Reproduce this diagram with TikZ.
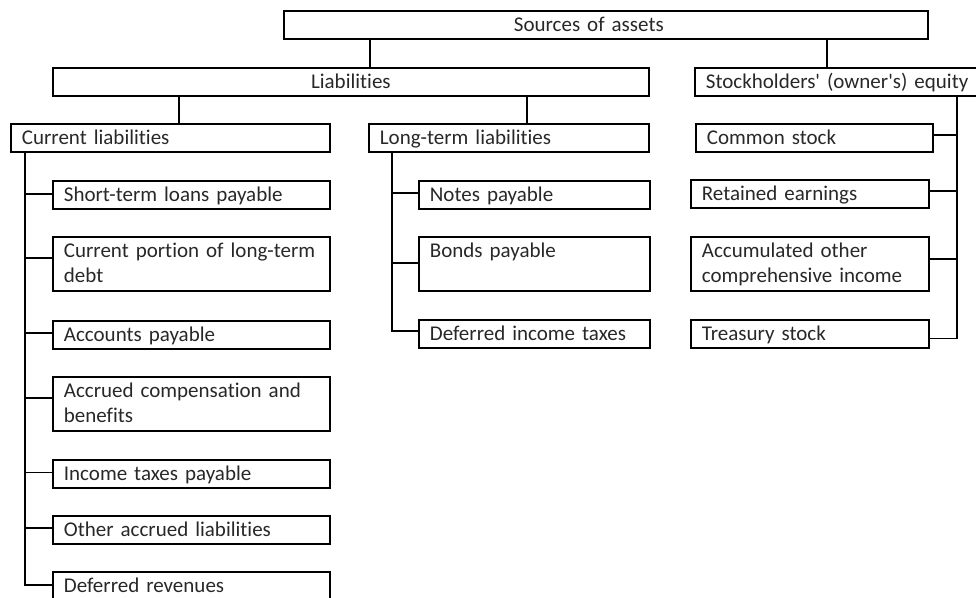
\documentclass[tikz,border=0pt]{standalone}
\usepackage{fontspec}
\setmainfont[Ligatures=NoCommon]{Carlito}
\usetikzlibrary{calc}
\definecolor{ink}{RGB}{40,40,40}
\tikzset{
  box/.style={draw=black, line width=1.8pt, anchor=north west,
    inner xsep=11pt, inner ysep=1pt, text height=20pt, text depth=6pt,
    align=left, text=ink, font=\fontsize{21}{25}\selectfont},
  tallbox/.style={box, text depth=32pt},
  link/.style={draw=black, line width=1.8pt},
}
\begin{document}
\begin{tikzpicture}[x=1pt,y=-1pt]
\useasboundingbox (0,0) rectangle (976,597);

% top levels
\node[box, text width=622pt] (src) at (283,10) {\hspace*{219pt}Sources of assets};
\node[box, text width=574pt, align=center] (liab) at (52,67) {Liabilities};
\node[box, text width=284pt] (eq) at (694,67) {Stockholders\textquotesingle{} (owner\textquotesingle{}s) equity};
\node[box, text width=297pt] (cur) at (10,123) {Current liabilities};
\node[box, text width=258pt] (lt) at (368,123) {Long-term liabilities};

% current liabilities
\node[box, text width=255pt] (c1) at (52,180) {Short-term loans payable};
\node[tallbox, text width=255pt] (c2) at (52,236) {Current portion of long-term\\debt};
\node[box, text width=255pt] (c3) at (52,320) {Accounts payable};
\node[tallbox, text width=255pt] (c4) at (52,376) {Accrued compensation and\\benefits};
\node[box, text width=255pt] (c5) at (52,459) {Income taxes payable};
\node[box, text width=255pt] (c6) at (52,515) {Other accrued liabilities};
\node[box, text width=255pt] (c7) at (52,571) {Deferred revenues};

% long-term liabilities
\node[box, text width=209pt] (n1) at (418,180) {Notes payable};
\node[tallbox, text width=209pt] (n2) at (418,236) {Bonds payable};
\node[box, text width=209pt] (n3) at (418,319) {Deferred income taxes};

% equity
\node[box, text width=215pt] (e1) at (695,123) {Common stock};
\node[box, text width=216pt] (e2) at (690,179) {Retained earnings};
\node[tallbox, text width=216pt] (e3) at (690,236) {Accumulated other\\comprehensive income};
\node[box, text width=216pt] (e4) at (690,319) {Treasury stock};

% upper connectors
\draw[link] ([xshift=87pt]src.south west) -- ([xshift=87pt]src.south west |- liab.north);
\draw[link] ([xshift=544pt]src.south west) -- ([xshift=544pt]src.south west |- eq.north);
\draw[link] ([xshift=127pt]liab.south west) -- ([xshift=127pt]liab.south west |- cur.north);
\draw[link] ([xshift=475pt]liab.south west) -- ([xshift=475pt]liab.south west |- lt.north);

% current liabilities trunk
\coordinate (ct) at ([xshift=15pt]cur.south west);
\draw[link] (ct) |- ([yshift=1pt]c1.west);
\draw[link] (ct) |- ([yshift=6pt]c2.west);
\draw[link] (ct) |- ([yshift=2pt]c3.west);
\draw[link] (ct) |- ([yshift=6pt]c4.west);
\draw[link] (ct) |- ([yshift=1.5pt]c5.west);
\draw[link] (ct) |- ([yshift=2pt]c6.west);
\draw[link] (ct) |- ([yshift=1pt]c7.west);

% long-term liabilities trunk
\coordinate (lt0) at ([xshift=24pt]lt.south west);
\draw[link] (lt0) |- ([yshift=2pt]n1.west);
\draw[link] (lt0) |- ([yshift=1pt]n2.west);
\draw[link] (lt0) |- ([yshift=3pt]n3.west);

% equity trunk
\coordinate (et) at ([xshift=263pt]eq.south west);
\draw[link] (et) |- ([yshift=3pt]e1.east);
\draw[link] (et) |- ([yshift=3pt]e2.east);
\draw[link] (et) |- ([yshift=5pt]e3.east);
\draw[link] (et) |- ([yshift=-4.5pt]e4.east);
\end{tikzpicture}
\end{document}
